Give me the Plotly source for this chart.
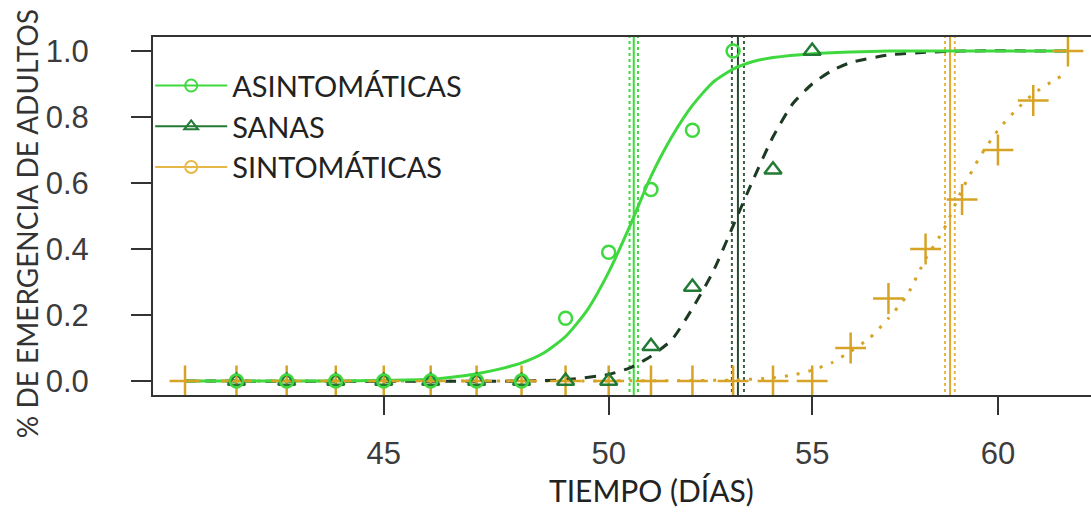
import plotly.graph_objects as go

# ---------------- data ----------------
# observed points
asint_x = [42, 43, 44, 45, 46, 47, 48, 49, 50, 51, 52, 53]
asint_y = [0, 0, 0, 0, 0, 0, 0, 0.19, 0.39, 0.58, 0.76, 1.0]

sanas_x = [42, 43, 44, 45, 46, 47, 48, 49, 50, 51, 52, 54, 55]
sanas_y = [0, 0, 0, 0, 0, 0, 0, 0, 0, 0.105, 0.285, 0.64, 1.0]

sint_x = [41, 42, 43, 44, 45, 46, 47, 48, 49, 50, 51, 52, 53, 54, 55,
          56, 57, 58, 59, 60, 61, 62]
sint_y = [0, 0, 0, 0, 0, 0, 0, 0, 0, 0, 0, 0, 0, 0, 0,
          0.10, 0.25, 0.40, 0.55, 0.70, 0.85, 1.0]

# fitted curves
fit_asint_x = [41, 44, 45, 46, 46.5, 47, 47.5, 48, 48.5, 49, 49.5, 50, 50.5,
               51, 51.5, 52, 52.5, 53, 53.5, 54, 55, 56, 57, 62]
fit_asint_y = [0, 0, 0.002, 0.005, 0.012, 0.022, 0.036, 0.055, 0.085, 0.135,
               0.215, 0.33, 0.47, 0.62, 0.74, 0.835, 0.905, 0.945, 0.968,
               0.98, 0.992, 0.997, 1.0, 1.0]

fit_sanas_x = [41, 48, 49, 50, 50.5, 51, 51.5, 52, 52.5, 53, 53.5, 54, 54.5,
               55, 55.5, 56, 57, 58, 59, 62]
fit_sanas_y = [0, 0, 0.004, 0.02, 0.04, 0.075, 0.125, 0.22, 0.33, 0.47,
               0.61, 0.74, 0.84, 0.9, 0.94, 0.965, 0.988, 0.996, 1.0, 1.0]

fit_sint_x = [41, 53, 54, 54.5, 55, 55.5, 56, 56.5, 57, 57.5, 58, 58.5, 59,
              59.5, 60, 60.5, 61, 61.5, 62]
fit_sint_y = [0, 0.003, 0.01, 0.018, 0.033, 0.055, 0.09, 0.13, 0.19, 0.26,
              0.37, 0.46, 0.58, 0.68, 0.76, 0.82, 0.87, 0.905, 0.935]

# TE50 estimates with confidence limits
te50_asint = [50.49, 50.59, 50.69]
te50_sanas = [52.97, 53.12, 53.27]
te50_sint = [58.53, 58.67, 58.80]

names = ["ASINTOMÁTICAS", "SANAS", "SINTOMÁTICAS"]
y_ticks = [0.0, 0.2, 0.4, 0.6, 0.8, 1.0]
x_ticks = [45, 50, 55, 60]

# ---------------- styles ----------------
GREEN = "#3fd93f"
DARKG = "#237a35"
DASHC = "#1d3a22"
GOLD = "#d6a326"
GOLDL = "#e6b84a"
TXT = "#3c3c3c"
TEXTFONT = "Lato"
NUMFONT = "Liberation Sans"

Y0, Y1 = -0.0424, 1.0424

fig = go.Figure()


def vlines(vals, color, solid_color):
    for i, v in enumerate(vals):
        solid = i == 1
        fig.add_trace(go.Scatter(
            x=[v, v], y=[Y0 - 0.1, Y1 + 0.1], mode="lines",
            line=dict(color=solid_color if solid else color,
                      width=2,
                      dash="solid" if solid else "3px,3px"),
            showlegend=False, hoverinfo="skip"))


vlines(te50_asint, GREEN, GREEN)
vlines(te50_sanas, "#3d5e45", "#2a4a30")
vlines(te50_sint, GOLDL, "#dfa93a")

# fitted curves
fig.add_trace(go.Scatter(x=fit_sint_x, y=fit_sint_y, mode="lines",
                         line=dict(color=GOLD, width=3, dash="3px,9px",
                                   shape="spline", smoothing=0.6),
                         showlegend=False))
fig.add_trace(go.Scatter(x=fit_sanas_x, y=fit_sanas_y, mode="lines",
                         line=dict(color=DASHC, width=3, dash="11px,9px",
                                   shape="spline", smoothing=0.6),
                         showlegend=False))
fig.add_trace(go.Scatter(x=fit_asint_x, y=fit_asint_y, mode="lines",
                         line=dict(color=GREEN, width=3,
                                   shape="spline", smoothing=0.6),
                         showlegend=False))

# observed points
fig.add_trace(go.Scatter(x=sint_x, y=sint_y, mode="markers",
                         marker=dict(symbol="cross-thin-open", size=22,
                                     color=GOLD,
                                     line=dict(color=GOLD, width=2.5)),
                         showlegend=False))
fig.add_trace(go.Scatter(x=sanas_x, y=sanas_y, mode="markers",
                         marker=dict(symbol="triangle-up-open", size=15,
                                     color=DARKG, line=dict(color=DARKG, width=2.5)),
                         showlegend=False))
fig.add_trace(go.Scatter(x=asint_x, y=asint_y, mode="markers",
                         marker=dict(symbol="circle-open", size=13,
                                     color=GREEN, line=dict(color=GREEN, width=2.5)),
                         showlegend=False))

# legend entries
leg_style = [
    (names[0], GREEN, "circle-open", GREEN),
    (names[1], DARKG, "triangle-up-open", DARKG),
    (names[2], GOLDL, "circle-open", GOLDL),
]
for nm, lc, sym, mc in leg_style:
    fig.add_trace(go.Scatter(x=[None], y=[None], mode="lines+markers", name=nm,
                             line=dict(color=lc, width=2),
                             marker=dict(symbol=sym, size=12, color=mc,
                                         line=dict(color=mc, width=2)),
                             showlegend=True))

fig.update_layout(
    width=1091, height=512,
    margin=dict(l=153, r=0, t=37, b=117),
    paper_bgcolor="white", plot_bgcolor="white",
    showlegend=True,
    legend=dict(x=-0.003, y=0.935, xanchor="left", yanchor="top",
                bgcolor="rgba(0,0,0,0)", borderwidth=0,
                font=dict(family=TEXTFONT, size=29, color="#222222"),
                itemwidth=72, tracegroupgap=0, traceorder="normal"),
    xaxis=dict(type="log", range=[1.60627, 1.79708],
               tickvals=x_ticks, ticktext=[str(v) for v in x_ticks],
               ticks="outside", ticklen=18, tickwidth=1.5, tickcolor="#333333",
               showline=True, linecolor="#333333", linewidth=2, mirror=True,
               showgrid=False, zeroline=False,
               tickfont=dict(family=NUMFONT, size=31, color=TXT),
               ticklabelstandoff=12),
    yaxis=dict(range=[Y0, Y1], tickvals=y_ticks,
               ticktext=[f"{v:.1f}" for v in y_ticks],
               ticks="outside", ticklen=20, tickwidth=1.5, tickcolor="#333333",
               showline=True, linecolor="#333333", linewidth=2, mirror=False,
               showgrid=False, zeroline=False,
               tickfont=dict(family=NUMFONT, size=31, color=TXT),
               ticklabelstandoff=36),
    annotations=[
        dict(text="TIEMPO (DÍAS)", xref="paper", yref="paper",
             x=0.531, y=-0.266, xanchor="center", yanchor="middle",
             showarrow=False,
             font=dict(family=TEXTFONT, size=30, color="#222222")),
        dict(text="% DE EMERGENCIA DE ADULTOS", xref="paper", yref="paper",
             x=-0.134, y=0.478, xanchor="center", yanchor="middle",
             textangle=-90, showarrow=False,
             font=dict(family=TEXTFONT, size=28, color="#333333")),
    ],
)

fig.write_html("out.html")
